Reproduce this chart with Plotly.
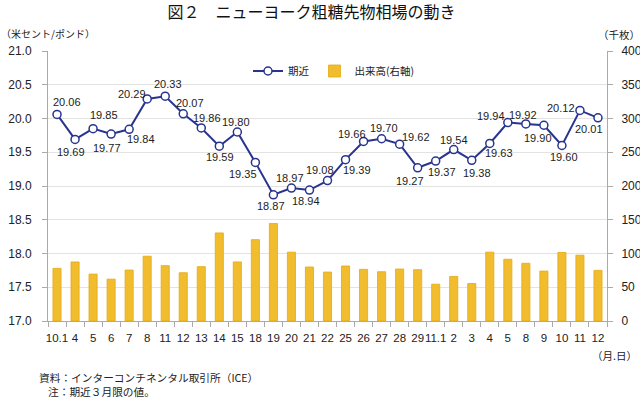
import plotly.graph_objects as go

dates = ["10.1","4","5","6","7","8","11","12","13","14","15","18","19","20","21","22",
         "25","26","27","28","29","11.1","2","3","4","5","8","9","10","11","12"]
price = [20.06,19.69,19.85,19.77,19.84,20.29,20.33,20.07,19.86,19.59,19.80,19.35,18.87,18.97,
         18.94,19.08,19.39,19.66,19.70,19.62,19.27,19.37,19.54,19.38,19.63,19.94,19.92,19.90,
         19.60,20.12,20.01]
volume = [78,87.5,69.5,62,75.5,96,82,71.5,80.5,130.5,87.5,120.5,144.5,102,80,72.5,
          81.5,76.5,73,77,76,54.5,66,55.5,102,91.5,85.5,74,101.5,97.5,75]
left_ticks = [17.0,17.5,18.0,18.5,19.0,19.5,20.0,20.5,21.0]
right_ticks = [0,50,100,150,200,250,300,350,400]

# label offsets in screen pixels (dx right, dy down) -- styling only
label_off = [(10,-12.5),(-4,13),(11,-14),(-4,13.5),(12,10),(-15,-5),(3,-12.5),(7,-11),
             (6,-10),(1,10.5),(-1,-10),(-12,11.5),(-2,11.5),(-1,-10),(-3,11),(-8,-11),
             (11.5,10),(-11.5,-7),(2,-10.5),(16.5,-7.5),(-8,13),(6,10.5),(0,-10),(5.5,13),
             (9,9.7),(-17,-6.7),(-2.4,-9.3),(-5.4,12.6),(2.3,11.7),(-18.6,-2.4),(-9.4,11.3)]

xs = list(range(len(dates)))
NUM = "Liberation Sans, Arial, sans-serif"
JP = "Noto Sans CJK JP, sans-serif"

fig = go.Figure()
fig.add_trace(go.Scatter(
    x=xs, y=price, name="期近", yaxis="y2", mode="lines+markers",
    line=dict(color="#28348f", width=2),
    marker=dict(symbol="circle", size=8, color="white", line=dict(color="#28348f", width=1.5)),
))
fig.add_trace(go.Bar(
    x=xs, y=volume, name="出来高(右軸)", yaxis="y", width=0.45,
    marker=dict(color="#f1bd2f", line=dict(color="#e3a912", width=0.8)),
))

W, H = 640, 398
L, R, T, B = 48, 33, 51, 77
pw, ph = W - L - R, H - T - B

def px(xp):
    return (xp - L) / pw

def py(yp):
    return (H - B - yp) / ph

annots = []
for i, (v, (dx, dy)) in enumerate(zip(price, label_off)):
    annots.append(dict(text=f"{v:.2f}", xref="x", yref="y2", x=xs[i], y=v,
                       xanchor="center", yanchor="middle", showarrow=False,
                       xshift=dx, yshift=-dy,
                       font=dict(family=NUM, size=11, color="#222")))

def note(text, cx, cy, size):
    return dict(text=text, xref="paper", yref="paper", x=px(cx), y=py(cy),
                xanchor="center", yanchor="middle", showarrow=False,
                font=dict(family=JP, size=size, color="#222"))

annots += [
    note("（米セント/ポンド）", 48, 33, 10),
    note("（千枚）", 619, 35, 10.5),
    note("（月.日）", 614, 355, 10.5),
    note("資料：インターコンチネンタル取引所（ICE）", 148, 377, 10.7),
    note("注：期近３月限の値。", 101, 391, 10.7),
]

fig.update_layout(
    width=W, height=H, margin=dict(l=L, r=R, t=T, b=B, autoexpand=False),
    paper_bgcolor="white", plot_bgcolor="white",
    showlegend=True, bargap=0.5,
    title=dict(text="図２　ニューヨーク粗糖先物相場の動き", x=px(320), xanchor="center",
               y=1 - 12 / H, yanchor="middle", font=dict(family=JP, size=16, color="#111")),
    legend=dict(orientation="h", x=px(334), xanchor="center", y=py(71), yanchor="middle",
                font=dict(family=JP, size=10.5, color="#222"), bgcolor="rgba(0,0,0,0)",
                itemwidth=30, tracegroupgap=0),
    xaxis=dict(range=[-0.5, len(dates) - 0.5], tickmode="array", tickvals=xs, ticktext=dates,
               ticks="", tickangle=0, showgrid=False, zeroline=False, automargin=False,
               showline=True, linecolor="#aaa", linewidth=1, ticklabelstandoff=6,
               tickfont=dict(family=NUM, size=11.5, color="#222"),
               minor=dict(ticks="outside", tickvals=[i + 0.5 for i in range(-1, len(dates))],
                          ticklen=5, tickcolor="#aaa", showgrid=False)),
    yaxis=dict(side="right", range=[0, 400], tickvals=right_ticks, showgrid=True,
               gridcolor="#e3e3e3", zeroline=False, showline=True, linecolor="#aaa",
               ticks="outside", ticklen=5, tickcolor="#aaa", ticklabelstandoff=6,
               automargin=False,
               tickfont=dict(family=NUM, size=12, color="#222")),
    yaxis2=dict(side="left", overlaying="y", range=[17, 21], tickvals=left_ticks,
                tickformat=".1f", showgrid=False, zeroline=False, showline=True,
                linecolor="#aaa", ticks="outside", ticklen=5, tickcolor="#aaa",
                ticklabelstandoff=8, automargin=False,
                tickfont=dict(family=NUM, size=12, color="#222")),
    annotations=annots,
)

fig.write_html("out.html", config={"displayModeBar": False},
               post_script="document.body.style.margin='0';")
